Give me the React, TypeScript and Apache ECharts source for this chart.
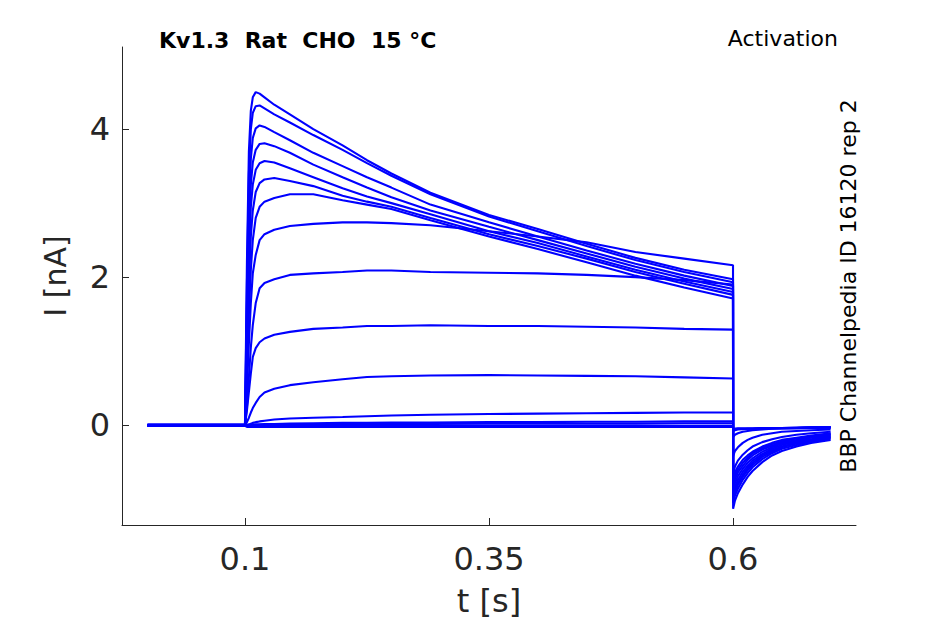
import React, { useEffect, useRef } from "react";
import * as echarts from "echarts";

// time points (s): baseline, step onset, pulse, tail
const TIME = [0, 0.1, 0.102, 0.104, 0.106, 0.108, 0.111, 0.115, 0.12, 0.13, 0.146, 0.17, 0.2, 0.225, 0.25, 0.29, 0.35, 0.4, 0.45, 0.5, 0.55, 0.6,
  0.6001, 0.602, 0.605, 0.61, 0.615, 0.62, 0.63, 0.64, 0.65, 0.665, 0.68, 0.7];

// current (nA) per sweep
const sweep01 = [0, 0, 2.2, 3.7, 4.25, 4.43, 4.5, 4.48, 4.43, 4.33, 4.2, 4.0, 3.78, 3.58, 3.4, 3.14, 2.84, 2.65, 2.45, 2.26, 2.1, 1.97,
  -0.74, -0.64, -0.56, -0.47, -0.41, -0.36, -0.29, -0.24, -0.2, -0.17, -0.14, -0.11];
const sweep02 = [0, 0, 1.9, 3.4, 4.0, 4.22, 4.31, 4.32, 4.28, 4.2, 4.09, 3.92, 3.72, 3.54, 3.37, 3.12, 2.82, 2.62, 2.42, 2.23, 2.07, 1.93,
  -0.78, -0.68, -0.6, -0.51, -0.44, -0.38, -0.31, -0.26, -0.22, -0.18, -0.15, -0.12];
const sweep03 = [0, 0, 1.6, 3.0, 3.6, 3.88, 4.01, 4.05, 4.03, 3.96, 3.85, 3.68, 3.5, 3.35, 3.21, 2.98, 2.74, 2.55, 2.36, 2.18, 2.02, 1.88,
  -0.83, -0.73, -0.64, -0.55, -0.47, -0.41, -0.33, -0.28, -0.24, -0.2, -0.16, -0.13];
const sweep04 = [0, 0, 1.3, 2.6, 3.25, 3.55, 3.72, 3.8, 3.81, 3.77, 3.68, 3.52, 3.35, 3.21, 3.08, 2.9, 2.68, 2.5, 2.32, 2.14, 1.98, 1.84,
  -0.88, -0.78, -0.69, -0.59, -0.51, -0.45, -0.36, -0.3, -0.25, -0.21, -0.17, -0.14];
const sweep05 = [0, 0, 1.1, 2.3, 2.95, 3.25, 3.45, 3.54, 3.57, 3.55, 3.47, 3.35, 3.2, 3.09, 3.0, 2.85, 2.62, 2.46, 2.28, 2.1, 1.94, 1.8,
  -0.93, -0.83, -0.74, -0.63, -0.55, -0.48, -0.39, -0.32, -0.27, -0.22, -0.19, -0.15];
const sweep06 = [0, 0, 0.9, 1.9, 2.55, 2.9, 3.15, 3.27, 3.32, 3.34, 3.3, 3.23, 3.1, 3.02, 2.95, 2.8, 2.58, 2.42, 2.25, 2.07, 1.91, 1.76,
  -1.0, -0.9, -0.81, -0.7, -0.61, -0.54, -0.43, -0.36, -0.3, -0.25, -0.21, -0.17];
const sweep07 = [0, 0, 0.7, 1.5, 2.1, 2.5, 2.8, 2.95, 3.02, 3.07, 3.12, 3.12, 3.04, 2.98, 2.92, 2.77, 2.55, 2.38, 2.2, 2.02, 1.86, 1.71,
  -1.05, -0.95, -0.86, -0.74, -0.65, -0.57, -0.46, -0.38, -0.32, -0.27, -0.22, -0.18];
const sweep08 = [0, 0, 0.5, 1.1, 1.65, 2.05, 2.3, 2.5, 2.58, 2.64, 2.69, 2.72, 2.74, 2.74, 2.73, 2.7, 2.62, 2.55, 2.47, 2.34, 2.25, 2.16,
  -1.13, -1.02, -0.92, -0.8, -0.7, -0.62, -0.5, -0.41, -0.35, -0.29, -0.24, -0.2];
const sweep09 = [0, 0, 0.25, 0.65, 1.05, 1.35, 1.65, 1.85, 1.92, 1.97, 2.03, 2.05, 2.07, 2.09, 2.09, 2.07, 2.06, 2.05, 2.03, 2.0, 1.96, 1.9,
  -0.97, -0.87, -0.78, -0.67, -0.58, -0.51, -0.41, -0.34, -0.29, -0.24, -0.2, -0.16];
const sweep10 = [0, 0, 0.2, 0.45, 0.7, 0.92, 1.04, 1.12, 1.17, 1.22, 1.26, 1.3, 1.32, 1.34, 1.34, 1.35, 1.34, 1.34, 1.33, 1.32, 1.3, 1.29,
  -0.66, -0.56, -0.48, -0.4, -0.34, -0.29, -0.23, -0.19, -0.16, -0.13, -0.11, -0.09];
const sweep11 = [0, 0, 0.04, 0.1, 0.17, 0.23, 0.3, 0.38, 0.44, 0.49, 0.54, 0.58, 0.62, 0.65, 0.66, 0.67, 0.675, 0.67, 0.665, 0.66, 0.645, 0.63,
  -0.42, -0.35, -0.3, -0.24, -0.2, -0.17, -0.13, -0.11, -0.09, -0.08, -0.07, -0.06];
const sweep12 = [0, 0, 0.005, 0.01, 0.02, 0.03, 0.04, 0.05, 0.06, 0.075, 0.09, 0.1, 0.11, 0.12, 0.13, 0.14, 0.15, 0.155, 0.16, 0.165, 0.17, 0.17,
  -0.16, -0.13, -0.11, -0.09, -0.08, -0.07, -0.06, -0.05, -0.05, -0.045, -0.04, -0.035];
const sweep13 = [0, 0, 0, 0, 0.005, 0.005, 0.01, 0.01, 0.015, 0.015, 0.02, 0.025, 0.03, 0.03, 0.035, 0.035, 0.04, 0.04, 0.045, 0.045, 0.05, 0.05,
  -0.08, -0.07, -0.06, -0.055, -0.05, -0.05, -0.045, -0.045, -0.04, -0.04, -0.035, -0.03];
const sweep14 = [0, 0, 0, 0, 0, 0, 0, 0.005, 0.005, 0.005, 0.01, 0.01, 0.01, 0.015, 0.015, 0.015, 0.02, 0.02, 0.02, 0.02, 0.025, 0.025,
  -0.05, -0.05, -0.045, -0.045, -0.045, -0.045, -0.04, -0.04, -0.04, -0.035, -0.03, -0.03];
const sweep15 = [0.01, 0.01, -0.01, -0.01, -0.01, -0.01, -0.01, -0.01, -0.01, -0.01, -0.01, -0.01, -0.01, -0.01, -0.01, -0.01, -0.01, -0.01, -0.01, -0.01, -0.01, -0.01,
  -0.05, -0.05, -0.045, -0.045, -0.045, -0.045, -0.04, -0.04, -0.04, -0.035, -0.03, -0.03];
const sweep16 = [-0.01, -0.01, -0.025, -0.025, -0.025, -0.025, -0.025, -0.025, -0.025, -0.025, -0.025, -0.025, -0.025, -0.025, -0.025, -0.025, -0.025, -0.025, -0.025, -0.025, -0.025, -0.025,
  -0.06, -0.055, -0.05, -0.05, -0.05, -0.05, -0.045, -0.045, -0.04, -0.035, -0.03, -0.025];

const SWEEPS = [sweep01, sweep02, sweep03, sweep04, sweep05, sweep06, sweep07, sweep08,
  sweep09, sweep10, sweep11, sweep12, sweep13, sweep14, sweep15, sweep16];

const X_TICKS = [0.1, 0.35, 0.6];
const Y_TICKS = [0, 2, 4];

const TITLE = "Kv1.3  Rat  CHO  15 °C";
const PROTOCOL = "Activation";
const SOURCE = "BBP Channelpedia ID 16120 rep 2";

const AX = "#262626";
const FONT = "DejaVu Sans";

export default function App() {
  const ref = useRef<HTMLDivElement>(null);
  useEffect(() => {
    const chart = echarts.init(ref.current as HTMLDivElement, null, { renderer: "svg" });
    chart.setOption({
      animation: false,
      grid: { left: 122, right: 89, top: 47, bottom: 99, containLabel: false },
      xAxis: {
        type: "value",
        min: -0.026,
        max: 0.726,
        splitLine: { show: false },
        axisLine: { show: true, onZero: false, lineStyle: { color: AX, width: 1 } },
        axisTick: { show: true, inside: true, length: 7, customValues: X_TICKS, lineStyle: { color: AX, width: 1 } },
        axisLabel: { customValues: X_TICKS, fontSize: 32, color: AX, fontFamily: FONT, margin: 18 },
        name: "t [s]",
        nameLocation: "middle",
        nameGap: 60,
        nameTextStyle: { fontSize: 32, color: AX, fontFamily: FONT },
      },
      yAxis: {
        type: "value",
        min: -1.35,
        max: 5.11,
        splitLine: { show: false },
        axisLine: { show: true, onZero: false, lineStyle: { color: AX, width: 1 } },
        axisTick: { show: true, inside: true, length: 7, customValues: Y_TICKS, lineStyle: { color: AX, width: 1 } },
        axisLabel: { customValues: Y_TICKS, fontSize: 32, color: AX, fontFamily: FONT, margin: 12 },
        name: "I [nA]",
        nameLocation: "middle",
        nameGap: 52,
        nameTextStyle: { fontSize: 30, color: AX, fontFamily: FONT, padding: [0, 0, 0, 20] },
      },
      series: SWEEPS.map((s, k) => ({
        type: "line",
        name: "sweep" + (k + 1),
        data: TIME.map((t, i) => [t, s[i]]),
        showSymbol: false,
        silent: true,
        lineStyle: { color: "#0000ff", width: 2.1 },
      })),
      graphic: [
        {
          type: "text",
          x: 159,
          y: 40,
          style: { text: TITLE, fill: "#000", font: `bold 22px "${FONT}"`, textAlign: "left", textVerticalAlign: "middle" },
        },
        {
          type: "text",
          x: 838,
          y: 38,
          style: { text: PROTOCOL, fill: "#000", font: `22px "${FONT}"`, textAlign: "right", textVerticalAlign: "middle" },
        },
        {
          type: "text",
          x: 848,
          y: 286,
          rotation: Math.PI / 2,
          style: { text: SOURCE, fill: "#000", font: `22px "${FONT}"`, textAlign: "center", textVerticalAlign: "middle" },
        },
      ],
    });
    return () => chart.dispose();
  }, []);
  return <div ref={ref} style={{ position: "fixed", left: 0, top: 0, width: 945, height: 624, background: "#fff" }} />;
}
